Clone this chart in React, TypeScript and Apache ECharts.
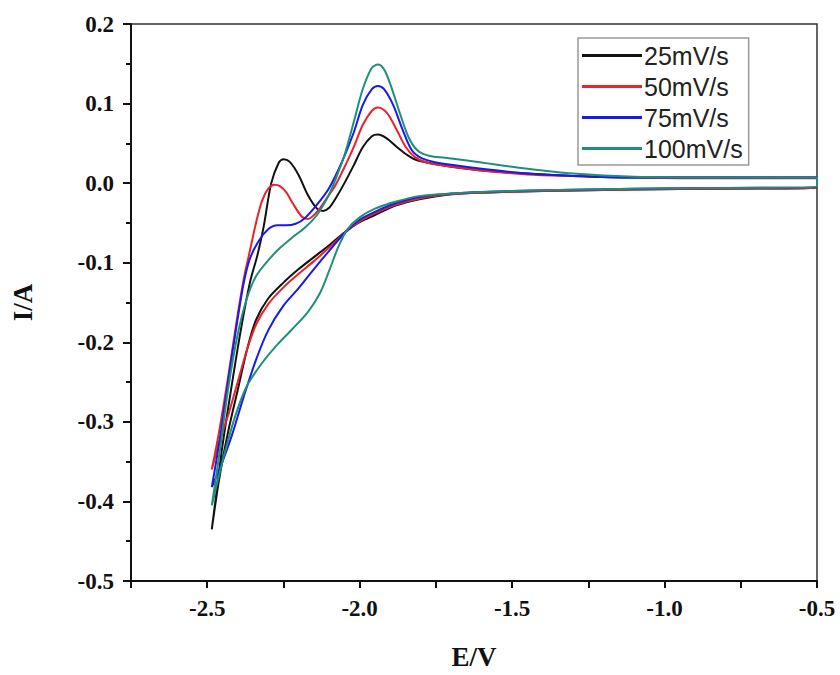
import React, { useEffect, useRef } from "react";
import * as echarts from "echarts";

const seriesNames = ["25mV/s", "50mV/s", "75mV/s", "100mV/s"];
const seriesColors = ["#111111", "#e8232a", "#1a1ae6", "#1f8f7c"];

const xTickLabels = [-2.5, -2.0, -1.5, -1.0, -0.5];
const yTickLabels = [0.2, 0.1, 0.0, -0.1, -0.2, -0.3, -0.4, -0.5];

// 25 mV/s: anodic branch from -2.485 V up to -0.5 V, then cathodic branch back
const cv25: [number, number][] = [
  [-2.485, -0.435], [-2.47, -0.39], [-2.45, -0.33], [-2.42, -0.255], [-2.39, -0.185],
  [-2.36, -0.125], [-2.335, -0.09], [-2.315, -0.055], [-2.29, 0.0], [-2.265, 0.026],
  [-2.25, 0.03], [-2.23, 0.027], [-2.2, 0.01], [-2.17, -0.015], [-2.14, -0.032],
  [-2.12, -0.035], [-2.1, -0.031], [-2.08, -0.02], [-2.05, 0.0], [-2.02, 0.022],
  [-1.99, 0.045], [-1.96, 0.059], [-1.94, 0.061], [-1.91, 0.056], [-1.88, 0.046],
  [-1.85, 0.037], [-1.82, 0.03], [-1.78, 0.026], [-1.72, 0.022], [-1.6, 0.016],
  [-1.45, 0.012], [-1.3, 0.009], [-1.1, 0.007], [-0.8, 0.007], [-0.5, 0.007],
  [-0.5, -0.006], [-0.8, -0.007], [-1.1, -0.008], [-1.4, -0.01], [-1.6, -0.012],
  [-1.7, -0.014], [-1.8, -0.02], [-1.88, -0.028], [-1.95, -0.04], [-2.0, -0.049],
  [-2.05, -0.062], [-2.1, -0.078], [-2.15, -0.093], [-2.2, -0.108], [-2.25, -0.125],
  [-2.3, -0.145], [-2.34, -0.172], [-2.37, -0.21], [-2.4, -0.26], [-2.43, -0.31],
  [-2.46, -0.37], [-2.485, -0.435],
];

const cv50: [number, number][] = [
  [-2.485, -0.36], [-2.46, -0.31], [-2.43, -0.24], [-2.40, -0.165], [-2.38, -0.12],
  [-2.36, -0.085], [-2.34, -0.05], [-2.32, -0.022], [-2.30, -0.007], [-2.28, -0.002],
  [-2.26, -0.004], [-2.24, -0.012], [-2.22, -0.025], [-2.19, -0.042], [-2.17, -0.045],
  [-2.14, -0.036], [-2.11, -0.02], [-2.08, -0.003], [-2.05, 0.02], [-2.02, 0.045],
  [-1.99, 0.073], [-1.96, 0.091], [-1.94, 0.095], [-1.91, 0.088], [-1.88, 0.068],
  [-1.85, 0.046], [-1.82, 0.033], [-1.78, 0.026], [-1.72, 0.022], [-1.6, 0.016],
  [-1.45, 0.011], [-1.3, 0.009], [-1.1, 0.007], [-0.8, 0.006], [-0.5, 0.006],
  [-0.5, -0.006], [-0.8, -0.007], [-1.1, -0.008], [-1.4, -0.01], [-1.6, -0.012],
  [-1.7, -0.014], [-1.8, -0.019], [-1.88, -0.027], [-1.95, -0.038], [-2.0, -0.048],
  [-2.05, -0.063], [-2.1, -0.081], [-2.15, -0.098], [-2.2, -0.114], [-2.25, -0.131],
  [-2.3, -0.152], [-2.34, -0.178], [-2.37, -0.21], [-2.4, -0.25], [-2.43, -0.29],
  [-2.46, -0.325], [-2.485, -0.36],
];

const cv75: [number, number][] = [
  [-2.485, -0.382], [-2.46, -0.325], [-2.43, -0.245], [-2.40, -0.17], [-2.38, -0.125],
  [-2.36, -0.095], [-2.33, -0.072], [-2.30, -0.058], [-2.27, -0.053],
  [-2.24, -0.053], [-2.21, -0.051], [-2.18, -0.044], [-2.14, -0.027], [-2.1, -0.006],
  [-2.06, 0.025], [-2.02, 0.063], [-1.99, 0.098], [-1.96, 0.118], [-1.94, 0.122],
  [-1.92, 0.118], [-1.89, 0.098], [-1.86, 0.068], [-1.83, 0.042], [-1.8, 0.032],
  [-1.76, 0.027], [-1.7, 0.023], [-1.6, 0.018], [-1.45, 0.012], [-1.3, 0.009],
  [-1.1, 0.007], [-0.8, 0.007], [-0.5, 0.007],
  [-0.5, -0.005], [-0.8, -0.006], [-1.1, -0.007], [-1.4, -0.009], [-1.6, -0.011],
  [-1.7, -0.013], [-1.8, -0.017], [-1.88, -0.025], [-1.95, -0.036], [-2.0, -0.046],
  [-2.05, -0.063], [-2.1, -0.085], [-2.15, -0.108], [-2.2, -0.132], [-2.25, -0.154],
  [-2.3, -0.185], [-2.34, -0.222], [-2.38, -0.268], [-2.42, -0.318],
  [-2.46, -0.36], [-2.485, -0.382],
];

const cv100: [number, number][] = [
  [-2.485, -0.405], [-2.46, -0.34], [-2.43, -0.255], [-2.40, -0.19],
  [-2.37, -0.145], [-2.34, -0.117], [-2.3, -0.097], [-2.26, -0.081], [-2.22, -0.068],
  [-2.18, -0.056], [-2.14, -0.04], [-2.1, -0.014], [-2.08, 0.004], [-2.05, 0.035],
  [-2.02, 0.076], [-1.99, 0.118], [-1.96, 0.145], [-1.94, 0.149], [-1.92, 0.143],
  [-1.9, 0.125], [-1.87, 0.09], [-1.84, 0.058], [-1.81, 0.041], [-1.77, 0.034],
  [-1.72, 0.032], [-1.6, 0.026], [-1.47, 0.019], [-1.3, 0.012], [-1.1, 0.008],
  [-0.8, 0.007], [-0.5, 0.007],
  [-0.5, -0.005], [-0.8, -0.006], [-1.1, -0.007], [-1.4, -0.009], [-1.6, -0.011],
  [-1.7, -0.013], [-1.8, -0.016], [-1.88, -0.023], [-1.95, -0.032], [-2.0, -0.043],
  [-2.04, -0.058], [-2.07, -0.08], [-2.1, -0.11], [-2.13, -0.138], [-2.17, -0.162],
  [-2.22, -0.183], [-2.27, -0.203], [-2.32, -0.226], [-2.37, -0.255], [-2.41, -0.295],
  [-2.45, -0.35], [-2.485, -0.405],
];

const allSeries = [cv25, cv50, cv75, cv100];

const serif = "'Liberation Serif', 'Times New Roman', serif";
const sans = "'Liberation Sans', Arial, sans-serif";

const isLabelled = (v: number, list: number[]) => list.some((t) => Math.abs(t - v) < 1e-6);

export default function App() {
  const ref = useRef<HTMLDivElement>(null);
  useEffect(() => {
    document.body.style.margin = "0";
    if (!ref.current) return;
    const chart = echarts.init(ref.current, undefined, { renderer: "svg" });
    const labelStyle = {
      fontFamily: serif,
      fontWeight: "bold" as const,
      fontSize: 23,
      color: "#111",
    };
    chart.setOption({
      animation: false,
      backgroundColor: "#ffffff",
      grid: {
        left: 131,
        right: 23,
        top: 24,
        bottom: 94,
        show: true,
        borderColor: "#333",
        borderWidth: 1.5,
        containLabel: false,
      },
      legend: {
        left: 578,
        top: 38,
        orient: "vertical",
        data: seriesNames,
        itemWidth: 60,
        itemHeight: 3,
        itemGap: 6,
        padding: [5, 6, 4, 4],
        borderColor: "#999",
        borderWidth: 1.5,
        backgroundColor: "#fff",
        icon: "rect",
        textStyle: { fontFamily: sans, fontSize: 25, color: "#222", padding: [0, 0, 0, -3] },
      },
      xAxis: {
        type: "value",
        min: -2.75,
        max: -0.5,
        interval: 0.25,
        name: "E/V",
        nameLocation: "middle",
        nameGap: 62,
        nameTextStyle: { ...labelStyle, fontSize: 27 },
        axisLine: { show: true, onZero: false, lineStyle: { color: "#111", width: 2 } },
        axisTick: { show: true, inside: false, length: 7, lineStyle: { color: "#111", width: 2 } },
        axisLabel: {
          ...labelStyle,
          margin: 16,
          showMinLabel: true,
          showMaxLabel: true,
          formatter: (v: number) => (isLabelled(v, xTickLabels) ? v.toFixed(1) : ""),
        },
        splitLine: { show: false },
      },
      yAxis: {
        type: "value",
        min: -0.5,
        max: 0.2,
        interval: 0.1,
        name: "I/A",
        nameLocation: "middle",
        nameGap: 95,
        nameRotate: 90,
        nameTextStyle: { ...labelStyle, fontSize: 27 },
        axisLine: { show: true, onZero: false, lineStyle: { color: "#111", width: 2 } },
        axisTick: { show: true, inside: false, length: 8, lineStyle: { color: "#111", width: 2 } },
        minorTick: { show: true, splitNumber: 2, length: 5, lineStyle: { color: "#111", width: 2 } },
        axisLabel: {
          ...labelStyle,
          margin: 17,
          formatter: (v: number) => (isLabelled(v, yTickLabels) ? v.toFixed(1) : ""),
        },
        splitLine: { show: false },
      },
      series: allSeries.map((d, i) => ({
        name: seriesNames[i],
        type: "line",
        data: d,
        smooth: 0.3,
        showSymbol: false,
        symbol: "none",
        color: seriesColors[i],
        lineStyle: { color: seriesColors[i], width: 2 },
      })),
    });
    return () => chart.dispose();
  }, []);
  return <div ref={ref} style={{ width: 840, height: 675 }} />;
}
